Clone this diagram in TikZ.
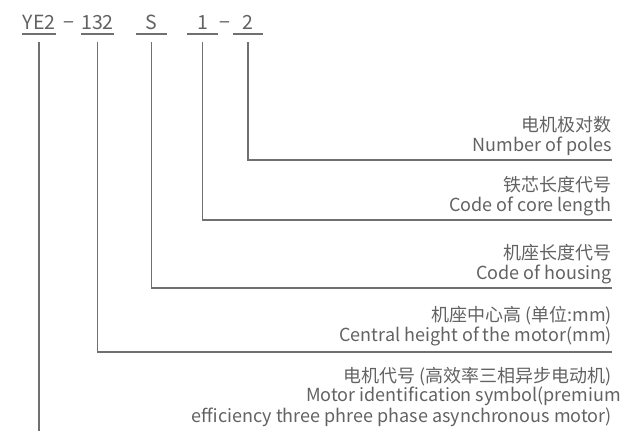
\documentclass[tikz,border=0pt]{standalone}
\usepackage{fontspec}
\setmainfont{Noto Sans CJK SC}
\definecolor{txtgray}{HTML}{626262}
\definecolor{linegray}{HTML}{707070}
\begin{document}
\begin{tikzpicture}[x=1pt,y=-1pt,
  code/.style={anchor=base,inner sep=0pt,minimum width=30pt,text=txtgray,font=\fontsize{19.5}{22}\selectfont},
  desc/.style={anchor=base east,inner sep=0pt,text=txtgray,font=\fontsize{18}{20}\selectfont},
  uline/.style={draw=linegray,line width=1.4pt},
  lead/.style={draw=linegray,line width=1.8pt}]
\useasboundingbox (0,0) rectangle (620,431);
\pgfmathsetmacro{\xr}{612}
\node[code] (ye) at (39,29) {YE2};
\node[code,minimum width=0pt] (dasha) at (69,29) {−};
\node[code] (num) at (97.5,29) {132};
\node[code] (hs) at (151.5,29) {S};
\node[code] (cl) at (202.5,29) {1};
\node[code,minimum width=0pt] (dashb) at (225,29) {−};
\node[code] (pl) at (248,29) {2};
\foreach \n in {ye,num,hs,cl,pl}
  \draw[uline] ([yshift=-5pt]\n.base west) -- ([yshift=-5pt]\n.base east);
\node[desc] (plzh) at (\xr,131) {电机极对数};
\node[desc] (plen) at (\xr,151) {Number of poles};
\node[desc] (clzh) at (\xr,191) {铁芯长度代号};
\node[desc] (clen) at (\xr,211) {Code of core length};
\node[desc] (hszh) at (\xr,259) {机座长度代号};
\node[desc] (hsen) at (\xr,279) {Code of housing};
\node[desc] (chzh) at (\xr,321) {机座中心高 (单位:mm)};
\node[desc] (chen) at (\xr,341) {Central height of the motor(mm)};
\node[desc] (idzh) at (\xr,382) {电机代号 (高效率三相异步电动机)};
\node[desc] (iden) at (621,401) {Motor identification symbol(premium};
\node[desc] (idex) at (\xr,422) {efficiency three phree phase asynchronous motor)};
\coordinate (plend) at (\xr,160);
\coordinate (clend) at (\xr,220);
\coordinate (hsend) at (\xr,288);
\coordinate (numend) at (\xr,352);
\coordinate (bottom) at (0,431);
\draw[lead] ([yshift=-13pt]pl.base) |- (plend);
\draw[lead] ([yshift=-13pt]cl.base) |- (clend);
\draw[lead] ([yshift=-13pt]hs.base) |- (hsend);
\draw[lead] ([yshift=-13pt]num.base) |- (numend);
\draw[lead] ([yshift=-13pt]ye.base) -- (ye.base |- bottom);
\end{tikzpicture}
\end{document}
